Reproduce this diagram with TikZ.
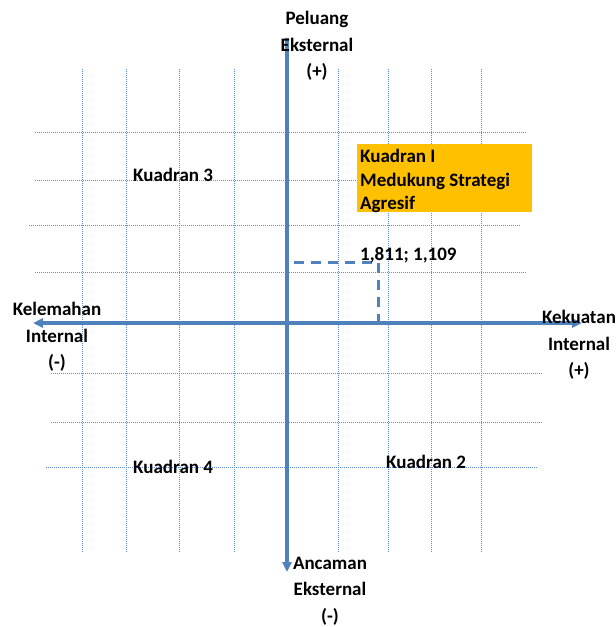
\documentclass[tikz,border=0pt]{standalone}
\usepackage{fontspec}
\setmainfont{Carlito}
\usetikzlibrary{arrows.meta}
\definecolor{axisblue}{HTML}{4F81BD}
\definecolor{gridblue}{HTML}{5B8FDB}
\definecolor{boxorange}{HTML}{FFC000}
\begin{document}
\begin{tikzpicture}[x=1pt,y=-1pt,
  gridline/.style={gridblue, line width=1pt, dash pattern=on 1pt off 1pt},
  axisline/.style={axisblue, line width=3.6pt},
  axistip/.style={-{Triangle[length=10pt,width=9pt]}},
  guideline/.style={axisblue, line width=3pt, dash pattern=on 10pt off 7pt},
  lbl/.style={font=\fontsize{19}{26.5}\selectfont\bfseries, inner sep=0pt, align=center},
  boxlbl/.style={font=\fontsize{19}{23.5}\selectfont\bfseries, inner sep=0pt, align=left},
  quad/.style={font=\fontsize{19}{23}\selectfont\bfseries, inner sep=0pt}]
\useasboundingbox (0,0) rectangle (616,627);
% grid
\foreach \x in {82,126,179,234,338,388,431,481}
  \draw[gridline] (\x,69) -- (\x,553);
\draw[gridline] (35,132) -- (526,132);
\draw[gridline] (35,180) -- (526,180);
\draw[gridline] (29,225) -- (520,225);
\draw[gridline] (35,272) -- (526,272);
\draw[gridline] (51,373) -- (543,373);
\draw[gridline] (51,422) -- (543,422);
\draw[gridline] (46,467) -- (537,467);
% orange box
\node[fill=boxorange, minimum width=175pt, minimum height=68pt, inner sep=0pt, anchor=north west] (box) at (357,144) {};
% coordinates
\coordinate (L) at (33,323);
\coordinate (R) at (582,323);
\coordinate (T) at (287,38);
\coordinate (B) at (287,572);
\coordinate (PY) at (294,262);
\coordinate (P) at (378,262);
\coordinate (PX) at (378,323);
% dashed guides
\draw[guideline] (PY) -- (P) -- (PX);
% axes
\draw[axisline, {Triangle[length=10pt,width=9pt]}-{Triangle[length=10pt,width=9pt]}] (L) -- (R);
\draw[axisline, axistip] (T) -- (B);
% labels
\node[lbl] (peluang) at (317,46) {Peluang\\Eksternal\\(+)};
\node[lbl] (kelemahan) at (57,337) {Kelemahan\\Internal\\(-)};
\node[lbl] (kekuatan) at (579,345) {Kekuatan\\Internal\\(+)};
\node[lbl] (ancaman) at (330,591) {Ancaman\\Eksternal\\(-)};
\node[boxlbl, anchor=west] (boxtext) at (360,181) {Kuadran I\\Medukung Strategi\\Agresif};
\node[quad, anchor=west] (q3) at (133,175) {Kuadran 3};
\node[quad, anchor=west] (q4) at (133,467) {Kuadran 4};
\node[quad, anchor=west] (q2) at (386,462) {Kuadran 2};
\node[quad, anchor=west] (pt) at (360,255) {1,811; 1,109};
\end{tikzpicture}
\end{document}
